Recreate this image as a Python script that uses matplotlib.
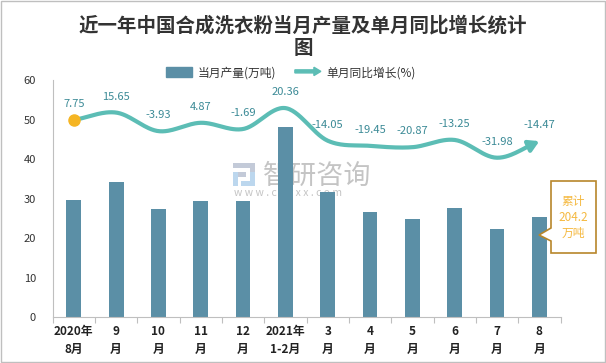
import numpy as np
import matplotlib
matplotlib.use("Agg")
import matplotlib.pyplot as plt
from matplotlib.patches import Patch, FancyArrow, Polygon, Rectangle
from matplotlib.legend_handler import HandlerPatch

plt.rcParams['font.family'] = ['Noto Sans CJK SC', 'DejaVu Sans']

categories = ["2020年\n8月", "9\n月", "10\n月", "11\n月", "12\n月", "2021年\n1-2月",
              "3\n月", "4\n月", "5\n月", "6\n月", "7\n月", "8\n月"]
output = [29.6, 34.2, 27.3, 29.4, 29.4, 48.1, 31.7, 26.7, 24.9, 27.7, 22.3, 25.4]
growth = [7.75, 15.65, -3.93, 4.87, -1.69, 20.36, -14.05, -19.45, -20.87, -13.25, -31.98, -14.47]
yticks = [0, 10, 20, 30, 40, 50, 60]
title = "近一年中国合成洗衣粉当月产量及单月同比增长统计\n图"
legend_labels = ["当月产量(万吨)", "单月同比增长(%)"]
note = "累计\n204.2\n万吨"

bar_color = "#5b8fa6"
line_color = "#5cbdb5"
label_color = "#3b8a96"
dot_color = "#f5b523"

W, H = 606, 363
def fx(px): return px / W
def fy(py): return 1 - py / H

fig = plt.figure(figsize=(6.06, 3.63), dpi=100)

# watermark (behind the plot)
fig.text(fx(263), fy(176), "智研咨询", fontsize=19.5, color="#c4c4c4", ha='left', va='center', zorder=-1)
fig.text(fx(234), fy(193), "w w w . c h y x x . c o m", fontsize=7.5, color="#c4c4c4",
         ha='left', va='center', zorder=-1)
for (x0, y0, x1, y1, c) in [(233, 163, 255, 168, "#c3cad8"), (250, 163, 255, 177, "#c3cad8"),
                             (233, 172, 246, 177, "#c3cad8"), (233, 172, 238, 186, "#bcd7ee"),
                             (241, 181, 255, 186, "#bcd7ee"), (250, 172, 255, 186, "#bcd7ee")]:
    fig.add_artist(Rectangle((fx(x0), fy(y1)), fx(x1) - fx(x0), fy(y0) - fy(y1),
                             transform=fig.transFigure, color=c, lw=0, zorder=-1))

ax = fig.add_axes([0.0868, 0.1267, 0.8382, 0.6529])
ax.patch.set_alpha(0)
x = np.arange(len(categories))
ax.bar(x, output, width=0.35, color=bar_color, zorder=2)
ax.set_xlim(-0.5, len(categories) - 0.5)
ax.set_ylim(0, 60)
ax.set_yticks(yticks)
ax.set_yticklabels([str(t) for t in yticks], fontsize=8, color="#333333")
ax.tick_params(axis='y', length=0, pad=12)
ax.set_xticks(x)
ax.set_xticklabels(categories, fontsize=8.5, fontweight='bold', color="#222222", linespacing=1.5)
ax.set_xticks(np.arange(-0.5, len(categories)), minor=True)
ax.tick_params(axis='x', which='major', length=0, pad=6)
ax.tick_params(axis='x', which='minor', length=4, color="#bfbfbf", width=0.8)
for s in ['top', 'right']:
    ax.spines[s].set_visible(False)
ax.spines['left'].set_color("#bfbfbf")
ax.spines['bottom'].set_color("#bfbfbf")

# secondary axis for growth line
ax2 = ax.twinx()
ax2.set_ylim(-200, 50)
ax2.axis('off')

def catmull(xs, ys, n=30):
    xs = np.asarray(xs, float); ys = np.asarray(ys, float)
    px = np.concatenate([[2*xs[0]-xs[1]], xs, [2*xs[-1]-xs[-2]]])
    py = np.concatenate([[2*ys[0]-ys[1]], ys, [2*ys[-1]-ys[-2]]])
    ox, oy = [], []
    for i in range(1, len(px)-2):
        t = np.linspace(0, 1, n, endpoint=False)
        for arr, out in ((px, ox), (py, oy)):
            p0, p1, p2, p3 = arr[i-1], arr[i], arr[i+1], arr[i+2]
            out.extend(0.5*((2*p1) + (-p0+p2)*t + (2*p0-5*p1+4*p2-p3)*t**2 + (-p0+3*p1-3*p2+p3)*t**3))
    ox.append(xs[-1]); oy.append(ys[-1])
    return np.array(ox), np.array(oy)

sx, sy = catmull(x, growth)
cut = len(sx) - 8
ax2.plot(sx[:cut+1], sy[:cut+1], color=line_color, lw=3, solid_capstyle='round', zorder=3)
ax2.annotate('', xy=(sx[-1], sy[-1]), xytext=(sx[cut], sy[cut]),
             arrowprops=dict(arrowstyle='-|>,head_length=0.6,head_width=0.35', color=line_color,
                             lw=3, shrinkA=0, shrinkB=0), zorder=3)
ax2.plot([x[0]], [growth[0]], 'o', color=dot_color, ms=8, zorder=4)
for xi, g in zip(x, growth):
    ax2.annotate(f"{g:.2f}", (xi, g), xytext=(0, 11.5), textcoords='offset points',
                 ha='center', va='center', fontsize=8, color=label_color, zorder=5)

# legend
def make_arrow(legend, orig_handle, xdescent, ydescent, width, height, fontsize):
    return FancyArrow(0, height/2, width, 0, width=2.2, head_width=6, head_length=5,
                      length_includes_head=True, color=line_color)

handles = [Patch(color=bar_color), Patch(color=line_color)]
leg = fig.legend(handles, legend_labels, loc='center', bbox_to_anchor=(0.48, 0.80), ncol=2,
                 frameon=False, fontsize=8.5, handlelength=2.2, handleheight=0.85, columnspacing=1.6,
                 handletextpad=0.5, handler_map={handles[1]: HandlerPatch(patch_func=make_arrow)})
for t in leg.get_texts():
    t.set_color("#333333")

# title
fig.text(0.5, 0.898, title, ha='center', va='center', fontsize=14, fontweight='bold',
         color="#333333", linespacing=1.25)

# callout box
box = Polygon([(fx(551), fy(181)), (fx(596), fy(181)), (fx(596), fy(253)), (fx(551), fy(253)),
               (fx(551), fy(241)), (fx(539), fy(235)), (fx(551), fy(228))],
              closed=True, transform=fig.transFigure, facecolor='white', edgecolor="#b8862b", lw=1.2, zorder=6)
fig.add_artist(box)
fig.text(fx(573.5), fy(217), note, ha='center', va='center', fontsize=8.5, color="#f5b940",
         linespacing=1.3, zorder=7)

# outer frame
fig.add_artist(Rectangle((0.001, 0.002), 0.997, 0.996, transform=fig.transFigure,
                         fill=False, edgecolor="#bfbfbf", lw=1))

fig.savefig("out.png", dpi=100)
